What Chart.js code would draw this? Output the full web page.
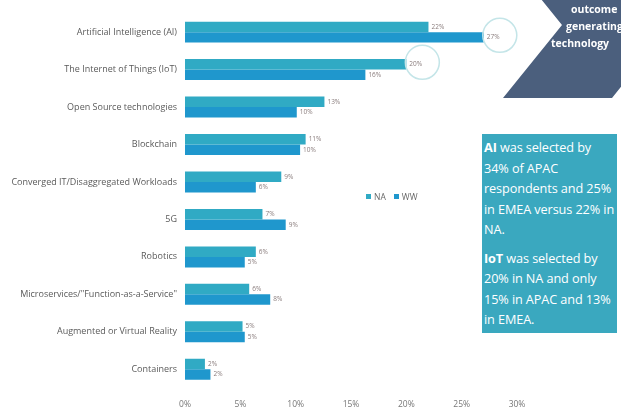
<!DOCTYPE html>
<html>
<head>
<meta charset="utf-8">
<script src="https://cdn.jsdelivr.net/npm/chart.js@4.4.1/dist/chart.umd.min.js"></script>
<style>
html,body{margin:0;padding:0;background:#fff;}
#wrap{position:relative;width:621px;height:412px;overflow:hidden;font-family:"Open Sans",sans-serif;}
#chart{position:absolute;left:0;top:0;}
.legend{position:absolute;left:366px;top:191px;font-size:8.5px;color:#666;white-space:nowrap;}
.legend span.sw{display:inline-block;width:5px;height:5px;margin-right:3px;vertical-align:1px;}
.legend span.it{margin-right:8px;}
.chev{position:absolute;color:#fff;font-weight:700;font-size:10.5px;line-height:17px;white-space:nowrap;}
.note{position:absolute;left:482px;top:134px;width:135px;height:199px;background:#3aa8bf;color:#fff;
  font-size:12.7px;line-height:20.5px;padding:3px 0 0 2px;box-sizing:border-box;white-space:nowrap;letter-spacing:-0.1px;}
.note b{font-weight:700;}
.note p{margin:0 0 8px 0;}
</style>
</head>
<body>
<div id="wrap">
  <canvas id="chart" width="621" height="412"></canvas>
  <div class="legend" id="legend"></div>
  <div class="chev" style="left:571px;top:1px;">outcome</div>
  <div class="chev" style="left:566px;top:18px;">generating</div>
  <div class="chev" style="left:551px;top:35px;">technology</div>
  <div class="note">
    <p><b>AI</b> was selected by<br>34% of APAC<br>respondents and 25%<br>in EMEA versus 22% in<br>NA.</p>
    <p><b>IoT</b> was selected by<br>20% in NA and only<br>15% in APAC and 13%<br>in EMEA.</p>
  </div>
</div>
<script>
// values (percent of respondents)
const categories = ['Artificial Intelligence (AI)', 'The Internet of Things (IoT)', 'Open Source technologies',
  'Blockchain', 'Converged IT/Disaggregated Workloads', '5G', 'Robotics',
  'Microservices/"Function-as-a-Service"', 'Augmented or Virtual Reality', 'Containers'];
const naValues = [22, 20, 12.6, 10.9, 8.7, 7.0, 6.4, 5.8, 5.2, 1.8];
const wwValues = [27, 16.3, 10.1, 10.4, 6.4, 9.1, 5.4, 7.7, 5.4, 2.3];
const xTicks = [0, 5, 10, 15, 20, 25, 30];

const naColor = '#30aac4';
const wwColor = '#1f97cd';

// [dataset, category] pairs that get a circle round the label
const circled = [[1, 0], [0, 1]];

const barLabels = {
  id: 'barLabels',
  afterDatasetsDraw(chart) {
    const ctx = chart.ctx;
    ctx.save();
    ctx.font = '6.5px "Open Sans"';
    ctx.fillStyle = '#8a7d7d';
    ctx.textBaseline = 'middle';
    chart.data.datasets.forEach((ds, i) => {
      chart.getDatasetMeta(i).data.forEach((bar, j) => {
        ctx.fillText(Math.round(ds.data[j]) + '%', bar.x + 3, bar.y);
      });
    });
    // circles
    ctx.strokeStyle = '#c4e5e8';
    ctx.lineWidth = 1.5;
    circled.forEach(([d, c]) => {
      const bar = chart.getDatasetMeta(d).data[c];
      ctx.beginPath();
      ctx.arc(bar.x + 16, bar.y - 2, 17, 0, Math.PI * 2);
      ctx.stroke();
    });
    ctx.restore();
  }
};

// the dark arrow in the top right corner
const chevron = {
  id: 'chevron',
  afterDraw(chart) {
    const ctx = chart.ctx;
    ctx.save();
    ctx.fillStyle = '#4b5f7d';
    ctx.beginPath();
    ctx.moveTo(503, 98);
    ctx.lineTo(562, 25);
    ctx.lineTo(503, -48);
    ctx.lineTo(612, -48);
    ctx.lineTo(671, 25);
    ctx.lineTo(612, 98);
    ctx.closePath();
    ctx.fill();
    ctx.restore();
  }
};

const chart = new Chart(document.getElementById('chart'), {
  type: 'bar',
  data: {
    labels: categories,
    datasets: [
      {label: 'NA', data: naValues, backgroundColor: naColor},
      {label: 'WW', data: wwValues, backgroundColor: wwColor}
    ]
  },
  options: {
    indexAxis: 'y',
    responsive: false,
    animation: false,
    layout: {padding: {top: 11, right: 104, left: 0, bottom: 0}},
    datasets: {bar: {categoryPercentage: 0.56, barPercentage: 1}},
    plugins: {legend: {display: false}, tooltip: {enabled: false}},
    scales: {
      x: {
        min: 0, max: 30,
        afterFit(scale) { scale.height = 24; },
        afterBuildTicks(scale) { scale.ticks = xTicks.map(v => ({value: v})); },
        grid: {display: false, drawTicks: false},
        border: {display: false},
        ticks: {padding: 11, color: '#777', font: {family: 'Open Sans', size: 8.5},
          callback: v => v + '%'}
      },
      y: {
        afterFit(scale) { scale.width = 185; },
        grid: {display: false, drawTicks: false},
        border: {display: false},
        ticks: {padding: 8, color: '#5a5a5a', font: {family: 'Open Sans', size: 9}}
      }
    }
  },
  plugins: [barLabels, chevron]
});

const legend = document.getElementById('legend');
chart.data.datasets.forEach(ds => {
  legend.innerHTML += '<span class="sw" style="background:' + ds.backgroundColor + '"></span><span class="it">' + ds.label + '</span>';
});
</script>
</body>
</html>
